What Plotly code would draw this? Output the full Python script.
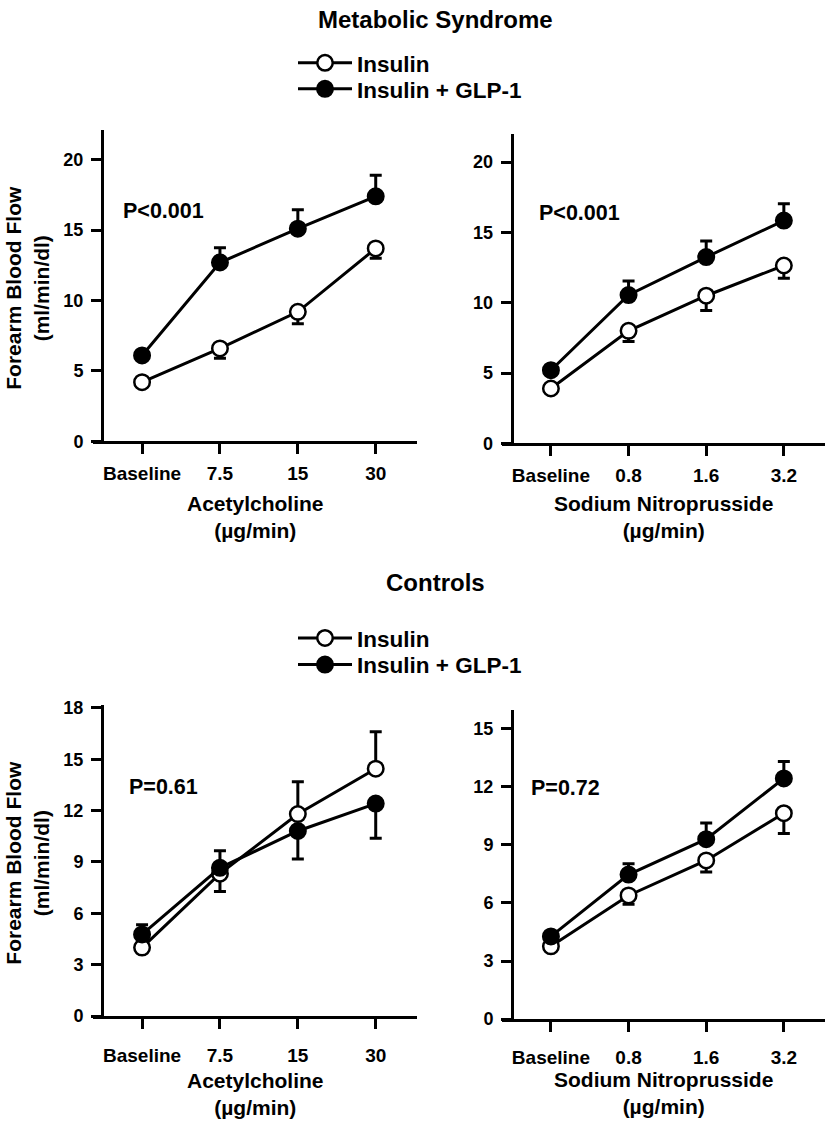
import plotly.graph_objects as go

W, H = 827, 1130

# ---------------- data ----------------
ach_doses = ["Baseline", "7.5", "15", "30"]
snp_doses = ["Baseline", "0.8", "1.6", "3.2"]
series_names = ["Insulin", "Insulin + GLP-1"]

# Metabolic syndrome - acetylcholine
ms_ach_ins = [4.2, 6.6, 9.2, 13.7]
ms_ach_ins_up = [0, 0, 0, 0]
ms_ach_ins_dn = [0.2, 0.7, 0.85, 0.7]
ms_ach_glp = [6.1, 12.7, 15.1, 17.4]
ms_ach_glp_up = [0.3, 1.05, 1.35, 1.5]
ms_ach_glp_dn = [0, 0, 0, 0]

# Metabolic syndrome - sodium nitroprusside
ms_snp_ins = [3.9, 8.0, 10.5, 12.65]
ms_snp_ins_up = [0, 0, 0, 0]
ms_snp_ins_dn = [0.3, 0.75, 1.05, 0.9]
ms_snp_glp = [5.2, 10.55, 13.25, 15.85]
ms_snp_glp_up = [0.3, 1.0, 1.15, 1.2]
ms_snp_glp_dn = [0, 0, 0, 0]

# Controls - acetylcholine
ct_ach_ins = [4.0, 8.32, 11.8, 14.45]
ct_ach_ins_up = [0, 0, 1.88, 2.15]
ct_ach_ins_dn = [0.3, 1.05, 0, 0]
ct_ach_glp = [4.77, 8.66, 10.81, 12.41]
ct_ach_glp_up = [0.57, 1.0, 0, 0]
ct_ach_glp_dn = [0, 0, 1.63, 2.02]

# Controls - sodium nitroprusside
ct_snp_ins = [3.76, 6.39, 8.2, 10.64]
ct_snp_ins_up = [0, 0, 0, 0]
ct_snp_ins_dn = [0.2, 0.45, 0.6, 1.05]
ct_snp_glp = [4.27, 7.47, 9.3, 12.44]
ct_snp_glp_up = [0.2, 0.56, 0.83, 0.88]
ct_snp_glp_dn = [0, 0, 0, 0]

p_values = ["P<0.001", "P<0.001", "P=0.61", "P=0.72"]
group_titles = ["Metabolic Syndrome", "Controls"]
drug_titles = ["Acetylcholine<br>(\u00b5g/min)", "Sodium Nitroprusside<br>(\u00b5g/min)"]
y_title = "Forearm Blood Flow<br>(ml/min/dl)"

# ---------------- layout helpers ----------------
FONT = "Arial, Liberation Sans, Helvetica, sans-serif"


def px_x(p):
    return p / W


def px_y(p):
    return 1 - p / H


panels = [
    dict(s="", xd=(93, 417), yd=(441, 125), yp=102, yr=22.1, dt=5, cats=ach_doses,
         ins=(ms_ach_ins, ms_ach_ins_up, ms_ach_ins_dn), glp=(ms_ach_glp, ms_ach_glp_up, ms_ach_glp_dn),
         legs=("legend", "legend2"), p=p_values[0], pp=(0.085, 0.741), xt=drug_titles[0],
         xtmid=518, ytl=True, stand=3),
    dict(s="2", xd=(502, 825), yd=(443, 129), yp=511.7, yr=22.0, dt=5, cats=snp_doses,
         ins=(ms_snp_ins, ms_snp_ins_up, ms_snp_ins_dn), glp=(ms_snp_glp, ms_snp_glp_up, ms_snp_glp_dn),
         legs=None, p=p_values[1], pp=(0.108, 0.745), xt=drug_titles[1],
         xtmid=518, ytl=False, stand=3),
    dict(s="3", xd=(93, 417), yd=(1024.5, 709), yp=102, yr=18.15, dt=3, cats=ach_doses,
         ins=(ct_ach_ins, ct_ach_ins_up, ct_ach_ins_dn), glp=(ct_ach_glp, ct_ach_glp_up, ct_ach_glp_dn),
         legs=("legend3", "legend4"), p=p_values[2], pp=(0.105, 0.736), xt=drug_titles[0],
         xtmid=1103.5, ytl=True, stand=10),
    dict(s="4", xd=(502, 825), yd=(1027.5, 713.3), yp=512, yr=16.0, dt=3, cats=snp_doses,
         ins=(ct_snp_ins, ct_snp_ins_up, ct_snp_ins_dn), glp=(ct_snp_glp, ct_snp_glp_up, ct_snp_glp_dn),
         legs=None, p=p_values[3], pp=(0.084, 0.748), xt=drug_titles[1],
         xtmid=1103, ytl=False, stand=9),
]

fig = go.Figure()
annotations = []
layout = {}

for pan in panels:
    s = pan["s"]
    xa, ya = "x" + s, "y" + s
    for k, (name, (vals, up, dn), filled) in enumerate((
        (series_names[0], pan["ins"], False),
        (series_names[1], pan["glp"], True),
    )):
        tr = dict(
            x=pan["cats"], y=vals, xaxis=xa, yaxis=ya, name=name,
            mode="lines+markers",
            line=dict(color="black", width=3),
            marker=dict(symbol="circle", size=15.5,
                        color="black" if filled else "white",
                        line=dict(color="black", width=2.5)),
            error_y=dict(type="data", symmetric=False, array=up, arrayminus=dn,
                         color="black", thickness=3, width=6),
            showlegend=pan["legs"] is not None,
            hoverinfo="skip",
        )
        if pan["legs"] is not None:
            tr["legend"] = pan["legs"][k]
        fig.add_trace(go.Scatter(**tr))

    layout["xaxis" + s] = dict(
        domain=[px_x(pan["xd"][0]), px_x(pan["xd"][1])],
        anchor=ya, type="category", range=[-0.63, 3.53],
        showline=True, linecolor="black", linewidth=3,
        ticks="outside", ticklen=10, tickwidth=3, tickcolor="black",
        showgrid=False, zeroline=False, fixedrange=True,
        tickfont=dict(family=FONT, size=19, color="black", weight="bold"),
        ticklabelstandoff=pan["stand"],
    )
    layout["yaxis" + s] = dict(
        domain=[px_y(pan["yd"][0]), px_y(pan["yd"][1])],
        anchor="free", position=px_x(pan["yp"]),
        range=[0, pan["yr"]], dtick=pan["dt"], tick0=0,
        showline=True, linecolor="black", linewidth=3,
        ticks="outside", ticklen=10, tickwidth=3, tickcolor="black",
        showgrid=False, zeroline=False, fixedrange=True,
        tickfont=dict(family=FONT, size=18, color="black", weight="bold"),
        ticklabelstandoff=4,
    )
    # p-value
    annotations.append(dict(
        text=pan["p"], xref=xa + " domain", yref=ya + " domain",
        x=pan["pp"][0], y=pan["pp"][1], xanchor="left", yanchor="middle",
        showarrow=False, font=dict(family=FONT, size=21.5, color="black", weight="bold"),
    ))
    # x-axis title (drug + unit)
    annotations.append(dict(
        text=pan["xt"], xref=xa + " domain", yref="paper",
        x=0.5, y=px_y(pan["xtmid"]), xanchor="center", yanchor="middle",
        showarrow=False, font=dict(family=FONT, size=21, color="black", weight="bold"),
    ))
    if pan["ytl"]:
        annotations.append(dict(
            text=y_title, xref="paper", yref="paper", textangle=-90,
            x=px_x(27), y=px_y((pan["yd"][0] + pan["yd"][1]) / 2 + 2),
            xanchor="center", yanchor="middle",
            showarrow=False, font=dict(family=FONT, size=21, color="black", weight="bold"),
        ))

# group titles
for txt, ypx in zip(group_titles, (13, 584)):
    annotations.append(dict(
        text=txt, xref="paper", yref="paper", x=px_x(435.5), y=px_y(ypx),
        xanchor="center", yanchor="middle", showarrow=False,
        font=dict(family=FONT, size=24, color="black", weight="bold"),
    ))

leg_common = dict(
    xanchor="left", yanchor="middle", bgcolor="rgba(0,0,0,0)", borderwidth=0,
    font=dict(family=FONT, size=22.5, color="black", weight="bold"),
    itemwidth=54, tracegroupgap=0, itemclick=False, itemdoubleclick=False,
)

legend_rows = {"legend": 57, "legend2": 83.5, "legend3": 641, "legend4": 668}
legend_layout = {k: dict(x=px_x(293), y=px_y(v), **leg_common) for k, v in legend_rows.items()}

fig.update_layout(
    width=W, height=H,
    margin=dict(l=0, r=0, t=0, b=0),
    paper_bgcolor="white", plot_bgcolor="white",
    annotations=annotations,
    **legend_layout,
    **layout,
)

fig.write_html(
    "out.html",
    config={"displayModeBar": False, "staticPlot": True},
    post_script="document.body.style.margin='0';",
)
